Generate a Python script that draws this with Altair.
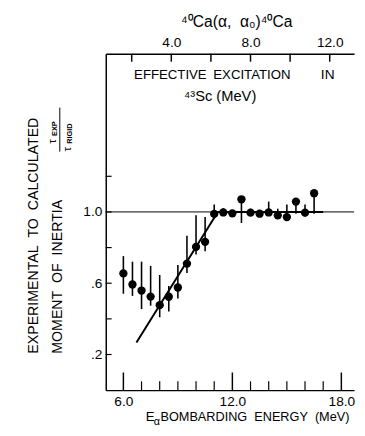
import altair as alt
import pandas as pd

# ---- data ----
energy = [6.0, 6.5, 7.0, 7.5, 8.0, 8.5, 9.0, 9.5, 10.0, 10.5, 11.0,
          11.5, 12.0, 12.5, 13.0, 13.5, 14.0, 14.5, 15.0, 15.5, 16.0, 16.5]
ratio = [0.655, 0.593, 0.559, 0.525, 0.477, 0.524, 0.576, 0.710, 0.804, 0.832, 0.989,
         0.997, 0.992, 1.071, 0.996, 0.990, 0.997, 0.981, 0.971, 1.058, 0.996, 1.105]
err_low = [0.541, 0.529, 0.455, 0.474, 0.409, 0.441, 0.514, 0.657, 0.761, 0.779, 0.971,
           0.990, 0.992, 0.938, 0.981, 0.990, 0.997, 0.981, 0.971, 0.990, 0.975, 0.990]
err_high = [0.752, 0.721, 0.721, 0.697, 0.646, 0.584, 0.702, 0.867, 0.981, 0.971, 1.041,
            1.020, 0.992, 1.085, 1.018, 0.990, 1.058, 1.018, 1.041, 1.058, 1.041, 1.105]

fit_energy = [6.72, 11.2, 17.0]
fit_ratio = [0.267, 1.0, 1.0]

bottom_major = [6, 12, 18]
bottom_minor = [7, 8, 9, 10, 11, 13, 14, 15, 16, 17]
top_ticks = [2, 4, 6, 8, 10, 12]
top_labels = [4, 8, 12]
y_ticks = [0.2, 0.4, 0.6, 0.8, 1.0, 1.2]
y_labels = [0.2, 0.6, 1.0]

FONT = "Liberation Sans"
W, H = 254, 344
X0, X1 = 5.03, 18.70
Y0, Y1 = 0.0, 1.887
SP = "\u00a0\u00a0"

pts = pd.DataFrame({"e": energy, "r": ratio, "lo": err_low, "hi": err_high})
fit = pd.DataFrame({"e": fit_energy, "r": fit_ratio})
one = pd.DataFrame({"a": [0]})

xs = alt.Scale(domain=[X0, X1], nice=False, zero=False)
ys = alt.Scale(domain=[Y0, Y1], nice=False, zero=False)
xt = alt.Scale(domain=[0.69, 13.23], nice=False, zero=False)

x_axis = alt.Axis(values=bottom_major, format=".1f", ticks=False, tickSize=0, grid=False,
                  domainColor="black", domainWidth=1.5, labelPadding=5, labelFont=FONT,
                  labelFontSize=14, labelColor="black", title=None)
y_axis = alt.Axis(values=y_labels, labelExpr="replace(format(datum.value, '.1f'), '0.', '.')",
                  ticks=False, tickSize=0, grid=False, domainColor="black", domainWidth=1.5,
                  labelPadding=4, labelFont=FONT, labelFontSize=14, labelColor="black", title=None)

X = alt.X("e:Q", scale=xs, axis=x_axis)
Y = alt.Y("r:Q", scale=ys, axis=y_axis)

bars = alt.Chart(pts).mark_rule(color="black", strokeWidth=1.6).encode(
    x=X, y=alt.Y("lo:Q", scale=ys, axis=y_axis), y2="hi:Q")
dots = alt.Chart(pts).mark_circle(color="black", opacity=1, size=72).encode(x=X, y=Y)
line = alt.Chart(fit).mark_line(color="black", strokeWidth=2).encode(x=X, y=Y)
ref = alt.Chart(one).mark_rule(color="black", strokeWidth=1).encode(y=alt.datum(1.0, scale=ys))

# inward ticks (lengths in axis units: 18 px, 9 px, 6 px, 8 px)
bmaj = alt.Chart(pd.DataFrame({"e": bottom_major})).mark_rule(color="black", strokeWidth=1.5).encode(
    x=X, y=alt.datum(Y0), y2=alt.datum(Y0 + 18 / 182))
bmin = alt.Chart(pd.DataFrame({"e": bottom_minor})).mark_rule(color="black", strokeWidth=1.2).encode(
    x=X, y=alt.datum(Y0), y2=alt.datum(Y0 + 9 / 182))
ytk = alt.Chart(pd.DataFrame({"r": y_ticks})).mark_rule(color="black", strokeWidth=1.2).encode(
    y=Y, x=alt.datum(X0), x2=alt.datum(X0 + 6 / 18.58))


def txt(s, x, y, size=14, angle=0, align="center", weight="normal"):
    return alt.Chart(one).mark_text(font=FONT, fontSize=size, angle=angle, align=align,
                                    baseline="middle", color="black", fontWeight=weight).encode(
        x=alt.value(x), y=alt.value(y), text=alt.value(s))


texts = [
    txt("\u2074\u2070Ca(\u03b1,\u00a0\u00a0\u03b1\u2080)\u2074\u2070Ca", 134, -32, size=16),
    txt("EFFECTIVE", 29, 22, size=13.5, align="left"),
    txt("EXCITATION", 110, 22, size=13.5, align="left"),
    txt("IN", 220, 22, size=14, align="left"),
    txt("\u2074\u00b3Sc\u00a0(MeV)", 117, 43, size=15),
    txt("E", 41, 372, size=13.5, align="left"),
    txt("\u03b1", 49, 377, size=11, align="left"),
    txt("BOMBARDING" + SP + "ENERGY" + SP + "(MeV)", 56, 372, size=13, align="left"),
    txt("EXPERIMENTAL" + SP + "TO" + SP + "CALCULATED", -73, 186, size=14.5, angle=270),
    txt("MOMENT" + SP + "OF" + SP + "INERTIA", -49, 228, size=14.5, angle=270),
    txt("\u03c4", -55, 92, size=12, angle=270, align="left"),
    txt("EXP", -52, 84, size=7.5, angle=270, align="left", weight="bold"),
    txt("\u03c4", -40, 100, size=12, angle=270, align="left"),
    txt("RIGID", -37, 92, size=7.5, angle=270, align="left", weight="bold"),
]
frac = alt.Chart(one).mark_rule(color="black", strokeWidth=1).encode(
    x=alt.value(-47), y=alt.value(55), y2=alt.value(100))

bottom = alt.layer(ref, line, bars, dots, bmaj, bmin, ytk, frac, *texts)

top_axis = alt.Axis(orient="top", values=top_labels, format=".1f", ticks=False, tickSize=0,
                    grid=False, domainColor="black", domainWidth=1.5, labelPadding=5,
                    labelFont=FONT, labelFontSize=14, labelColor="black", title=None)
top = alt.Chart(pd.DataFrame({"t": top_ticks})).mark_rule(color="black", strokeWidth=1.5).encode(
    x=alt.X("t:Q", scale=xt, axis=top_axis), y=alt.datum(Y1), y2=alt.datum(Y1 - 8 / 182))

chart = alt.layer(bottom, top).resolve_scale(x="independent").properties(
    width=W, height=H,
    padding={"left": 100, "top": 42, "right": 3, "bottom": 42},
    autosize=alt.AutoSizeParams(type="none"),
).configure_view(stroke=None)

chart.save("out.html", embed_options={"renderer": "svg", "actions": False})
